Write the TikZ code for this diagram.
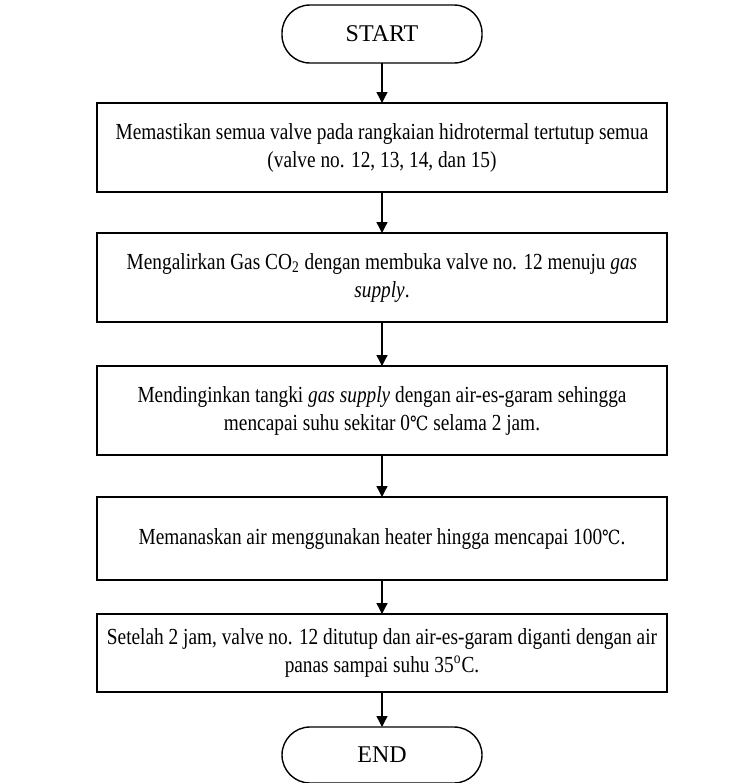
\documentclass[tikz,border=0pt]{standalone}
\usepackage{fontspec}
\setmainfont{Liberation Serif}[FakeStretch=0.84]
\newfontfamily\termfont{Liberation Serif}
\newfontfamily\degfont{DejaVu Serif}[Scale=0.85,FakeStretch=0.84]
\usetikzlibrary{positioning}
\usetikzlibrary{arrows.meta}
\newcommand{\degC}{{\degfont ℃}}

\tikzset{
  stepbox/.style={draw, line width=0.7pt, outer sep=0pt, minimum width=285pt, align=center, inner sep=2pt},
  termbox/.style={draw, line width=0.7pt, outer sep=0pt, rounded corners=14pt, minimum width=100pt, minimum height=29pt, inner sep=2pt, font=\termfont\fontsize{12}{14}\selectfont},
}

\begin{document}
\begin{tikzpicture}[font=\fontsize{11.5}{14}\selectfont]
  \useasboundingbox (0,0) rectangle (377.5pt,-391.5pt);
  \node (start) [termbox] at (191pt,-17pt) {START};
  \node (s1) [stepbox, minimum height=44.5pt, below=20pt of start]
    {Memastikan semua valve pada rangkaian hidrotermal tertutup semua\\(valve no. 12, 13, 14, dan 15)};
  \node (s2) [stepbox, minimum height=44.5pt, below=20.5pt of s1]
    {Mengalirkan Gas CO\textsubscript{2} dengan membuka valve no. 12 menuju \textit{gas}\\\textit{supply}.};
  \node (s3) [stepbox, minimum height=44.5pt, below=22pt of s2]
    {Mendinginkan tangki \textit{gas supply} dengan air-es-garam sehingga\\mencapai suhu sekitar 0\degC{} selama 2 jam.};
  \node (s4) [stepbox, minimum height=41.5pt, below=21pt of s3]
    {Memanaskan air menggunakan heater hingga mencapai 100\degC.};
  \node (s5) [stepbox, minimum height=39pt, below=17pt of s4]
    {Setelah 2 jam, valve no. 12 ditutup dan air-es-garam diganti dengan air\\panas sampai suhu 35\textsuperscript{o}C.};
  \node (stop) [termbox, minimum height=28pt, below=17.5pt of s5] {END};
  \path[-{Triangle[length=5.5pt,width=5.5pt]}, line width=0.7pt]
    (start) edge (s1)
    (s1) edge (s2)
    (s2) edge (s3)
    (s3) edge (s4)
    (s4) edge (s5)
    (s5) edge (stop);
\end{tikzpicture}
\end{document}
